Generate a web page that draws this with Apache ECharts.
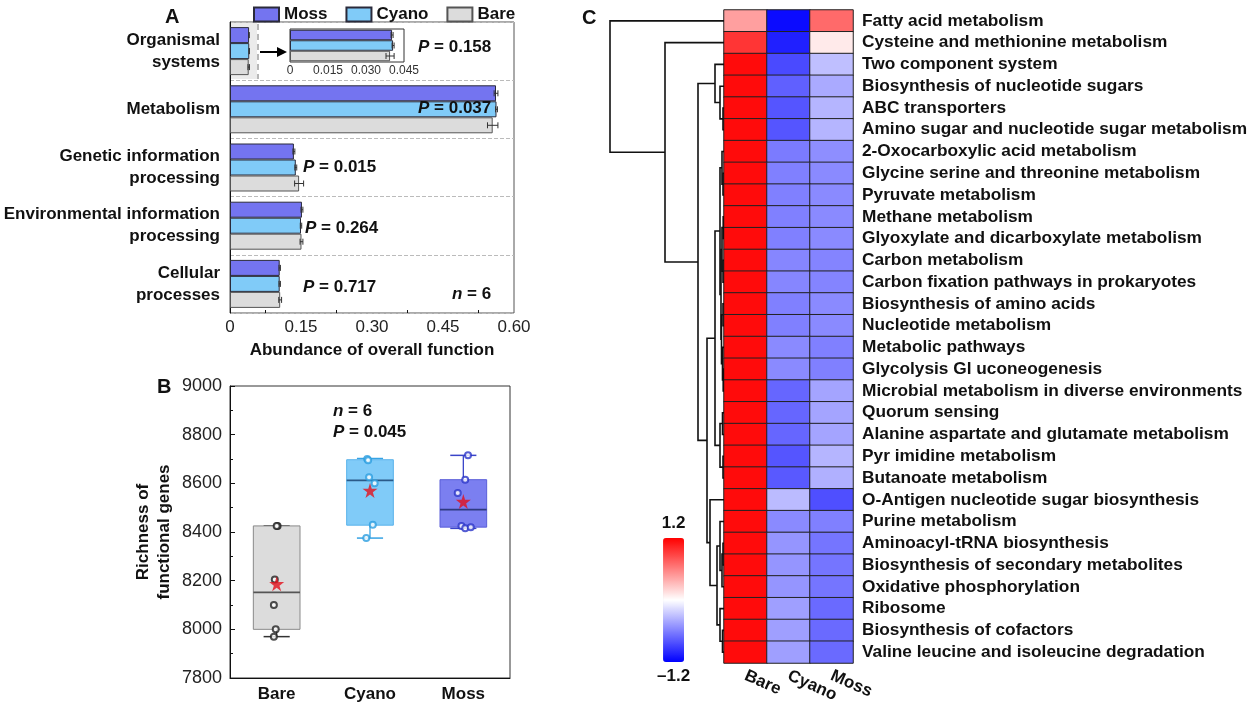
<!DOCTYPE html>
<html><head><meta charset="utf-8">
<script src="https://cdn.jsdelivr.net/npm/echarts@6/dist/echarts.min.js"></script>
<style>html,body{margin:0;padding:0;background:#fff}#c{width:1250px;height:706px}</style>
</head><body><div id="c"></div>
<script>
const FF = "'Liberation Sans', Arial, sans-serif";

// ---------- Panel A data ----------
const categoriesA = ['Organismal\nsystems', 'Metabolism', 'Genetic information\nprocessing', 'Environmental information\nprocessing', 'Cellular\nprocesses'];
const mossA  = [0.0403, 0.562, 0.135, 0.152, 0.105];
const cyanoA = [0.0407, 0.563, 0.139, 0.150, 0.105];
const bareA  = [0.0395, 0.555, 0.146, 0.151, 0.106];
const mossErrA  = [0.0004, 0.004, 0.002, 0.002, 0.0015];
const cyanoErrA = [0.0004, 0.002, 0.002, 0.0015, 0.0015];
const bareErrA  = [0.0016, 0.011, 0.0095, 0.003, 0.003];
const pValuesA = ['0.158', '0.037', '0.015', '0.264', '0.717'];
const xTicksA = [0, 0.15, 0.30, 0.45, 0.60];
const insetTicks = [0, 0.015, 0.030, 0.045];

// ---------- Panel B data ----------
const groupsB = ['Bare', 'Cyano', 'Moss'];
// [min, Q1, median, Q3, max]
const boxB = [
  [7970, 8000, 8152, 8425, 8425],
  [8375, 8428, 8612, 8697, 8702],
  [8415, 8420, 8492, 8615, 8715]
];
const meanB = [8187, 8571, 8525];
const pointsBare  = [[0.01, 8425], [0.0, 8425], [-0.02, 8205], [-0.03, 8100], [-0.01, 8000], [-0.03, 7970]];
const pointsCyano = [[0.97, 8700], [0.98, 8695], [0.99, 8625], [1.05, 8600], [1.03, 8430], [0.96, 8375]];
const pointsMoss  = [[2.05, 8715], [2.02, 8615], [1.94, 8560], [1.98, 8425], [2.02, 8415], [2.08, 8420]];

// ---------- Panel C data ----------
const columnsC = ['Bare', 'Cyano', 'Moss'];
const rowsC = [
  'Fatty acid metabolism', 'Cysteine and methionine metabolism', 'Two component system',
  'Biosynthesis of nucleotide sugars', 'ABC transporters', 'Amino sugar and nucleotide sugar metabolism',
  '2-Oxocarboxylic acid metabolism', 'Glycine serine and threonine metabolism', 'Pyruvate metabolism',
  'Methane metabolism', 'Glyoxylate and dicarboxylate metabolism', 'Carbon metabolism',
  'Carbon fixation pathways in prokaryotes', 'Biosynthesis of amino acids', 'Nucleotide metabolism',
  'Metabolic pathways', 'Glycolysis Gl uconeogenesis', 'Microbial metabolism in diverse environments',
  'Quorum sensing', 'Alanine aspartate and glutamate metabolism', 'Pyr imidine metabolism',
  'Butanoate metabolism', 'O-Antigen nucleotide sugar biosynthesis', 'Purine metabolism',
  'Aminoacyl-tRNA biosynthesis', 'Biosynthesis of secondary metabolites', 'Oxidative phosphorylation',
  'Ribosome', 'Biosynthesis of cofactors', 'Valine leucine and isoleucine degradation'
];
const bareH  = [0.45, 0.95, 1.15, 1.15, 1.15, 1.15, 1.15, 1.15, 1.15, 1.15, 1.15, 1.15, 1.15, 1.15, 1.15, 1.15, 1.15, 1.15, 1.15, 1.15, 1.15, 1.15, 1.15, 1.15, 1.15, 1.15, 1.15, 1.15, 1.15, 1.15];
const cyanoH = [-1.15, -1.05, -0.85, -0.75, -0.8, -0.8, -0.62, -0.6, -0.6, -0.6, -0.6, -0.57, -0.57, -0.6, -0.6, -0.55, -0.55, -0.72, -0.72, -0.72, -0.8, -0.78, -0.32, -0.55, -0.5, -0.5, -0.5, -0.45, -0.45, -0.45];
const mossH  = [0.7, 0.1, -0.3, -0.4, -0.35, -0.35, -0.53, -0.55, -0.55, -0.55, -0.55, -0.58, -0.58, -0.55, -0.55, -0.6, -0.6, -0.43, -0.43, -0.43, -0.35, -0.37, -0.83, -0.6, -0.65, -0.65, -0.65, -0.7, -0.7, -0.7];
// dendrogram merges: [childA, childB, height]; children < 30 are rows, >= 30 are earlier merges
const merges = [
  [4, 5, 1], [3, 30, 4], [2, 31, 9],
  [28, 29, 1.5], [27, 33, 4], [24, 25, 1], [35, 26, 2], [23, 36, 4], [37, 34, 7], [22, 38, 14],
  [18, 19, 1.5], [20, 21, 1], [40, 41, 4],
  [7, 8, 1], [6, 43, 2], [9, 10, 0.8], [11, 12, 1], [45, 46, 2], [16, 17, 0.8], [15, 48, 1.5],
  [13, 14, 1], [50, 49, 2.5], [47, 51, 3], [44, 52, 4], [53, 42, 9], [54, 39, 17],
  [32, 55, 26], [1, 56, 59], [0, 57, 114]
];

// ---------- build ----------
const colMoss = '#7474f0', colCyano = '#80cbf8', colBare = '#dcdcdc';
const barBorder = '#2a2a3a';

function errSeries(xi, yi, vals, errs, offset) {
  return {
    type: 'custom', xAxisIndex: xi, yAxisIndex: yi, z: 6, silent: true,
    data: vals.map((v, i) => [i, v, errs[i]]),
    encode: { x: 1, y: 0 },
    renderItem: function (params, api) {
      const cat = api.value(0), v = api.value(1), e = api.value(2);
      const lo = api.coord([v - e, cat]), hi = api.coord([v + e, cat]);
      const y = lo[1] + offset;
      const st = { stroke: '#333', lineWidth: 1 };
      return { type: 'group', children: [
        { type: 'line', shape: { x1: lo[0], y1: y, x2: hi[0], y2: y }, style: st },
        { type: 'line', shape: { x1: lo[0], y1: y - 3, x2: lo[0], y2: y + 3 }, style: st },
        { type: 'line', shape: { x1: hi[0], y1: y - 3, x2: hi[0], y2: y + 3 }, style: st }
      ]};
    }
  };
}

const heatData = [];
rowsC.forEach((r, i) => {
  heatData.push([0, i, bareH[i]]);
  heatData.push([1, i, cyanoH[i]]);
  heatData.push([2, i, mossH[i]]);
});

const nodePos = rowsC.map((r, i) => ({ y: i, h: 0 }));
const dendroData = merges.map(([a, b, h]) => {
  const A = nodePos[a], B = nodePos[b];
  nodePos.push({ y: (A.y + B.y) / 2, h: h });
  return [A.y, B.y, h, A.h, B.h];
});

const boxStyles = [
  { fill: '#dcdcdc', border: '#8a8a8a', whisker: '#333333', median: '#555555', point: '#222222' },
  { fill: '#80cbf8', border: '#5ab3ea', whisker: '#36a3e4', median: '#2a5a88', point: '#2a9de0' },
  { fill: '#7b7ff0', border: '#5a5ed8', whisker: '#3a44c8', median: '#2e3a80', point: '#2a34c8' }
];

const starPath = 'path://M50,0 L61,35 L98,35 L68,57 L79,91 L50,70 L21,91 L32,57 L2,35 L39,35 Z';

const boldText = { fontFamily: FF, fontWeight: 'bold', fontSize: 17, color: '#111' };
function pText(x, y, label, val) {
  return { type: 'text', x: x, y: y, z: 20, style: {
    text: '{i|' + label + '}{b| = ' + val + '}', verticalAlign: 'middle',
    rich: { i: { fontFamily: FF, fontWeight: 'bold', fontStyle: 'italic', fontSize: 17, fill: '#111', color: '#111' },
            b: { fontFamily: FF, fontWeight: 'bold', fontSize: 17, fill: '#111', color: '#111' } }
  }};
}

const pPos = [[418, 47], [418, 108], [303, 167], [305, 228], [303, 287]];

const option = {
  animation: false,
  backgroundColor: '#fff',
  textStyle: { fontFamily: FF },
  legend: {
    left: 248, top: 1, itemWidth: 25, itemHeight: 14, itemGap: 18, icon: 'rect',
    data: ['Moss', 'Cyano', 'Bare'],
    textStyle: { fontFamily: FF, fontWeight: 'bold', fontSize: 17, color: '#111' }
  },
  grid: [
    { left: 230, top: 22, width: 284, height: 291, show: true, borderColor: '#555', borderWidth: 1, outerBoundsMode: 'none' },
    { left: 290, top: 29, width: 114, height: 33, show: true, borderColor: '#333', borderWidth: 1, backgroundColor: '#fff', z: 3, outerBoundsMode: 'none' },
    { left: 230, top: 386, width: 280, height: 292, show: true, borderColor: '#333', borderWidth: 1, outerBoundsMode: 'none' },
    { left: 724, top: 10, width: 129, height: 653, outerBoundsMode: 'none' },
    { left: 608, top: 10, width: 116, height: 653, outerBoundsMode: 'none' }
  ],
  xAxis: [
    { gridIndex: 0, type: 'value', min: 0, max: 0.6, interval: 0.15,
      axisLine: { lineStyle: { color: '#111' } },
      axisTick: { inside: true, length: 5, lineStyle: { color: '#111' } },
      minorTick: { show: true, splitNumber: 2, length: 3, lineStyle: { color: '#111' } },
      splitLine: { show: false },
      axisLabel: { fontSize: 17, color: '#222', margin: 6, formatter: v => (xTicksA.indexOf(v) === 0 ? '0' : v.toFixed(2)) },
      name: 'Abundance of overall function', nameLocation: 'middle', nameGap: 29,
      nameTextStyle: boldText },
    { gridIndex: 1, type: 'value', min: 0, max: 0.045, interval: 0.015,
      axisLine: { lineStyle: { color: '#111' } },
      axisTick: { inside: true, length: 3 }, splitLine: { show: false },
      axisLabel: { fontSize: 12, color: '#333', margin: 3, formatter: v => (insetTicks.indexOf(v) === 0 ? '0' : v.toFixed(3)) } },
    { gridIndex: 2, type: 'category', data: groupsB,
      axisLine: { onZero: false, lineStyle: { color: '#111' } },
      axisTick: { inside: true, alignWithLabel: true, length: 5, lineStyle: { color: '#111' } },
      axisLabel: { fontSize: 17, fontWeight: 'bold', color: '#111', margin: 8, interval: 0 } },
    { gridIndex: 2, type: 'value', min: -0.5, max: 2.5, show: false },
    { gridIndex: 3, type: 'category', data: columnsC, position: 'bottom',
      axisLine: { show: false }, axisTick: { show: false },
      axisLabel: { rotate: -24, fontSize: 17, fontWeight: 'bold', color: '#111', margin: 12, interval: 0 } },
    { gridIndex: 4, type: 'value', min: 0, max: 116, inverse: true, show: false }
  ],
  yAxis: [
    { gridIndex: 0, type: 'category', data: categoriesA, inverse: true,
      axisLine: { lineStyle: { color: '#111' } },
      axisTick: { inside: true, length: 4, lineStyle: { color: '#111' } },
      splitLine: { show: true, lineStyle: { color: '#bbb', type: 'dashed' } },
      axisLabel: { fontSize: 17, fontWeight: 'bold', color: '#111', align: 'right', margin: 10, lineHeight: 22, interval: 0 } },
    { gridIndex: 1, type: 'category', data: ['Organismal systems'], inverse: true, show: false },
    { gridIndex: 2, type: 'value', min: 7800, max: 9000, interval: 200,
      axisLine: { show: true, onZero: false, lineStyle: { color: '#111' } },
      axisTick: { show: true, inside: true, length: 5, lineStyle: { color: '#111' } },
      minorTick: { show: true, splitNumber: 2, length: 3, lineStyle: { color: '#111' } },
      splitLine: { show: false },
      axisLabel: { fontSize: 18, color: '#222', margin: 8, formatter: v => String(v) },
      name: 'Richness of\nfunctional genes', nameLocation: 'middle', nameGap: 55,
      nameTextStyle: Object.assign({}, boldText, { lineHeight: 21 }) },
    { gridIndex: 3, type: 'category', data: rowsC, inverse: true, position: 'right',
      axisLine: { show: false }, axisTick: { show: false },
      axisLabel: { fontSize: 17.3, fontWeight: 'bold', color: '#111', margin: 9, interval: 0 } },
    { gridIndex: 4, type: 'value', min: -0.5, max: 29.5, inverse: true, show: false }
  ],
  visualMap: {
    type: 'continuous', seriesIndex: 0, min: -1.2, max: 1.2, orient: 'vertical',
    left: 642, top: 500, itemWidth: 21, itemHeight: 124, calculable: false,
    text: ['1.2', '–1.2'], textGap: 6,
    inRange: { color: ['#0000ff', '#ffffff', '#ff0000'] },
    textStyle: { fontFamily: FF, fontWeight: 'bold', fontSize: 17, color: '#111' }
  },
  series: [
    { type: 'heatmap', xAxisIndex: 4, yAxisIndex: 3, data: heatData,
      itemStyle: { borderColor: '#222', borderWidth: 1 } },
    { type: 'custom', xAxisIndex: 5, yAxisIndex: 4, data: dendroData, silent: true, clip: false,
      renderItem: function (params, api) {
        const yA = api.value(0), yB = api.value(1), h = api.value(2), hA = api.value(3), hB = api.value(4);
        const pts = [api.coord([hA, yA]), api.coord([h, yA]), api.coord([h, yB]), api.coord([hB, yB])];
        return { type: 'polyline', shape: { points: pts }, style: { stroke: '#111', lineWidth: 1.6, fill: 'none' } };
      } },
    // Panel A bars
    { name: 'Moss', type: 'bar', xAxisIndex: 0, yAxisIndex: 0, data: mossA, barWidth: 16, barGap: '0%',
      itemStyle: { color: colMoss, borderColor: barBorder, borderWidth: 1 } },
    { name: 'Cyano', type: 'bar', xAxisIndex: 0, yAxisIndex: 0, data: cyanoA, barWidth: 16, barGap: '0%',
      itemStyle: { color: colCyano, borderColor: barBorder, borderWidth: 1 } },
    { name: 'Bare', type: 'bar', xAxisIndex: 0, yAxisIndex: 0, data: bareA, barWidth: 16, barGap: '0%',
      itemStyle: { color: colBare, borderColor: '#555', borderWidth: 1 } },
    errSeries(0, 0, mossA, mossErrA, -16),
    errSeries(0, 0, cyanoA, cyanoErrA, 0),
    errSeries(0, 0, bareA, bareErrA, 16),
    // inset
    { name: 'Moss', type: 'bar', xAxisIndex: 1, yAxisIndex: 1, data: [mossA[0]], barWidth: 10.5, barGap: '0%', z: 4,
      itemStyle: { color: colMoss, borderColor: barBorder, borderWidth: 1 } },
    { name: 'Cyano', type: 'bar', xAxisIndex: 1, yAxisIndex: 1, data: [cyanoA[0]], barWidth: 10.5, barGap: '0%', z: 4,
      itemStyle: { color: colCyano, borderColor: barBorder, borderWidth: 1 } },
    { name: 'Bare', type: 'bar', xAxisIndex: 1, yAxisIndex: 1, data: [bareA[0]], barWidth: 10.5, barGap: '0%', z: 4,
      itemStyle: { color: colBare, borderColor: '#555', borderWidth: 1 } },
    errSeries(1, 1, [mossA[0]], [mossErrA[0]], -10.5),
    errSeries(1, 1, [cyanoA[0]], [cyanoErrA[0]], 0),
    errSeries(1, 1, [bareA[0]], [bareErrA[0]], 10.5),
    // Panel B boxes
    { type: 'custom', xAxisIndex: 2, yAxisIndex: 2, silent: true, z: 3,
      data: boxB.map((b, i) => [i].concat(b)),
      encode: { x: 0, y: [1, 2, 3, 4, 5] },
      renderItem: function (params, api) {
        const i = api.value(0), s = boxStyles[params.dataIndex];
        const band = api.size([1, 0])[0];
        const pMin = api.coord([i, api.value(1)]), pQ1 = api.coord([i, api.value(2)]),
              pMed = api.coord([i, api.value(3)]), pQ3 = api.coord([i, api.value(4)]), pMax = api.coord([i, api.value(5)]);
        const cx = pMin[0], hw = band * 0.25, cw = band * 0.14;
        return { type: 'group', children: [
          { type: 'line', shape: { x1: cx, y1: pQ3[1], x2: cx, y2: pMax[1] }, style: { stroke: s.whisker, lineWidth: 1.3 } },
          { type: 'line', shape: { x1: cx, y1: pQ1[1], x2: cx, y2: pMin[1] }, style: { stroke: s.whisker, lineWidth: 1.3 } },
          { type: 'line', shape: { x1: cx - cw, y1: pMax[1], x2: cx + cw, y2: pMax[1] }, style: { stroke: s.whisker, lineWidth: 1.5 } },
          { type: 'line', shape: { x1: cx - cw, y1: pMin[1], x2: cx + cw, y2: pMin[1] }, style: { stroke: s.whisker, lineWidth: 1.5 } },
          { type: 'rect', shape: { x: cx - hw, y: pQ3[1], width: hw * 2, height: pQ1[1] - pQ3[1] }, style: { fill: s.fill, stroke: s.border, lineWidth: 1 } },
          { type: 'line', shape: { x1: cx - hw, y1: pMed[1], x2: cx + hw, y2: pMed[1] }, style: { stroke: s.median, lineWidth: 1.6 } }
        ]};
      } },
    { type: 'scatter', xAxisIndex: 3, yAxisIndex: 2, data: pointsBare, symbol: 'emptyCircle', symbolSize: 6, z: 5,
      itemStyle: { color: boxStyles[0].point, borderWidth: 1.2 } },
    { type: 'scatter', xAxisIndex: 3, yAxisIndex: 2, data: pointsCyano, symbol: 'emptyCircle', symbolSize: 6, z: 5,
      itemStyle: { color: boxStyles[1].point, borderWidth: 1.2 } },
    { type: 'scatter', xAxisIndex: 3, yAxisIndex: 2, data: pointsMoss, symbol: 'emptyCircle', symbolSize: 6, z: 5,
      itemStyle: { color: boxStyles[2].point, borderWidth: 1.2 } },
    { type: 'scatter', xAxisIndex: 3, yAxisIndex: 2, data: meanB.map((m, i) => [i, m]), symbol: starPath, symbolSize: 15, z: 6,
      itemStyle: { color: '#e3101c' } }
  ],
  graphic: [
    { type: 'rect', z: 1, shape: { x: 231, y: 23, width: 26, height: 56 }, style: { fill: '#ebebeb' } },
    { type: 'line', z: 1, shape: { x1: 258, y1: 24, x2: 258, y2: 79 }, style: { stroke: '#888', lineWidth: 1.2, lineDash: [6, 4] } },
    { type: 'line', z: 20, shape: { x1: 260, y1: 52, x2: 278, y2: 52 }, style: { stroke: '#000', lineWidth: 2 } },
    { type: 'polygon', z: 20, shape: { points: [[277, 47], [287, 52], [277, 57]] }, style: { fill: '#000' } },
    { type: 'text', x: 165, y: 7, z: 20, style: { text: 'A', font: 'bold 20px ' + FF, fill: '#111' } },
    { type: 'text', x: 157, y: 377, z: 20, style: { text: 'B', font: 'bold 20px ' + FF, fill: '#111' } },
    { type: 'text', x: 582, y: 8, z: 20, style: { text: 'C', font: 'bold 20px ' + FF, fill: '#111' } },
    pText(pPos[0][0], pPos[0][1], 'P', pValuesA[0]),
    pText(pPos[1][0], pPos[1][1], 'P', pValuesA[1]),
    pText(pPos[2][0], pPos[2][1], 'P', pValuesA[2]),
    pText(pPos[3][0], pPos[3][1], 'P', pValuesA[3]),
    pText(pPos[4][0], pPos[4][1], 'P', pValuesA[4]),
    pText(452, 294, 'n', '6'),
    pText(333, 411, 'n', '6'),
    pText(333, 432, 'P', '0.045')
  ]
};

const chart = echarts.init(document.getElementById('c'), null, { renderer: 'canvas' });
chart.setOption(option);
</script>
</body></html>
